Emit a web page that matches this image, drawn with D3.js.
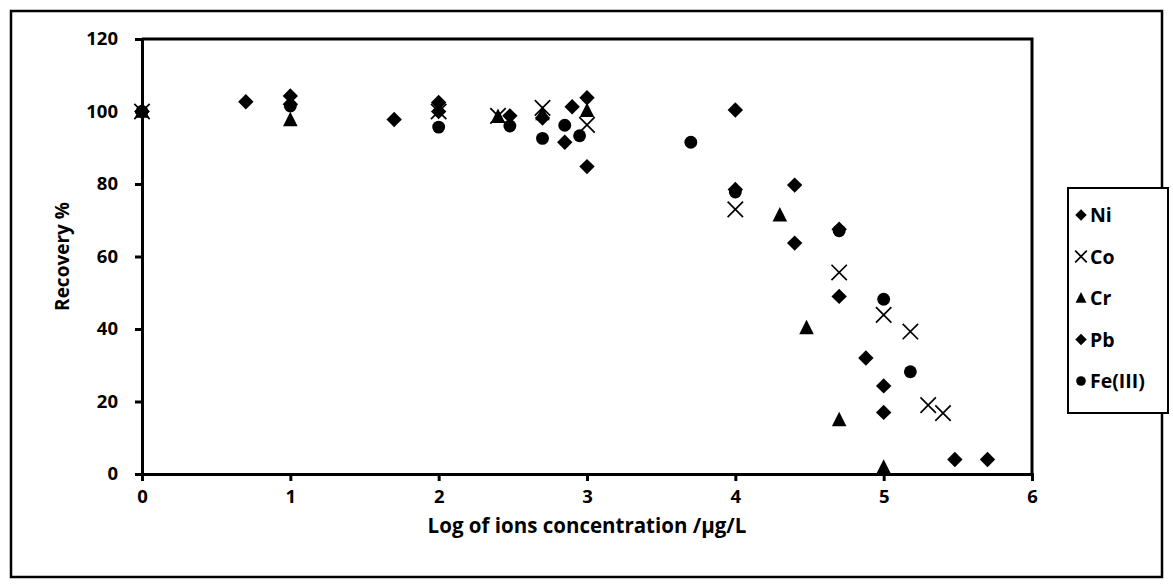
<!DOCTYPE html>
<html><head><meta charset="utf-8">
<script src="https://cdn.jsdelivr.net/npm/d3@7/dist/d3.min.js"></script>
<style>body{margin:0;background:#fff}svg{display:block}text{font-family:"Open Sans",sans-serif;font-weight:bold;fill:#000}</style>
</head><body><svg id="c" width="1173" height="588"></svg>
<script>
const xTicks = [0,1,2,3,4,5,6];
const yTicks = [0,20,40,60,80,100,120];
const seriesNames = ["Ni","Co","Cr","Pb","Fe(III)"];
const seriesShapes = ["diamond","cross","triangle","diamond","circle"];
const niData = [[0,100],[1,104.3],[2,102.5],[2.7,98.2],[3,103.8],[4,100.4],[4.4,79.7],[4.7,49],[5,24.3],[5.48,4]];
const coData = [[0,100],[2,100],[2.4,98.8],[2.7,101],[3,96.3],[4,73],[4.7,55.6],[5,43.9],[5.18,39.3],[5.3,19],[5.4,16.8]];
const crData = [[0,100],[1,97.7],[2.4,98.6],[2.7,99.3],[3,100.2],[4.3,71.4],[4.48,40.3],[4.7,14.9],[5,1.8]];
const pbData = [[0,100],[0.7,102.7],[1,102],[1.7,97.8],[2,100],[2.48,98.8],[2.85,91.5],[2.9,101.3],[3,84.8],[4,78.5],[4.4,63.7],[4.7,67.5],[4.88,32],[5,17],[5.7,4]];
const feData = [[0,100],[1,101.5],[2,95.7],[2.48,96],[2.7,92.6],[2.85,96.2],[2.95,93.3],[3.7,91.5],[4,77.8],[4.7,67.1],[5,48.2],[5.18,28.2]];
const allData = [niData,coData,crData,pbData,feData];

const svg = d3.select("#c");
const L=142, R=1032, T=39, B=474;
const x = d3.scaleLinear().domain([0,6]).range([L,R]);
const y = d3.scaleLinear().domain([0,120]).range([B,T]);

svg.append("rect").attr("x",11).attr("y",11).attr("width",1151).attr("height",566)
  .attr("fill","none").attr("stroke","#000").attr("stroke-width",2.5);

svg.append("path").attr("d",`M${L},${T}H${R}V${B}`).attr("fill","none").attr("stroke","#000").attr("stroke-width",3);

const xa = svg.append("g").attr("transform",`translate(0,${B})`)
  .call(d3.axisBottom(x).tickValues(xTicks).tickFormat(d3.format("d")).tickSize(7).tickPadding(9));
const ya = svg.append("g").attr("transform",`translate(${L},0)`)
  .call(d3.axisLeft(y).tickValues(yTicks).tickFormat(d3.format("d")).tickSize(7).tickPadding(17));
[xa,ya].forEach(a=>{
  a.select(".domain").attr("stroke","#000").attr("stroke-width",3);
  a.selectAll(".tick line").attr("stroke","#000").attr("stroke-width",3);
  a.selectAll(".tick text").style("font-size","18.5px").style("font-family","'Open Sans',sans-serif").style("font-weight","bold").attr("fill","#000");
});

function shape(g, type, cx, cy, s){
  if(type==="diamond"){
    g.append("path").attr("d",`M${cx},${cy-s*0.55}L${cx+s*0.55},${cy}L${cx},${cy+s*0.55}L${cx-s*0.55},${cy}Z`).attr("fill","#000");
  } else if(type==="circle"){
    g.append("circle").attr("cx",cx).attr("cy",cy).attr("r",s*0.46).attr("fill","#000");
  } else if(type==="triangle"){
    g.append("path").attr("d",`M${cx},${cy-s*0.58}L${cx+s*0.52},${cy+s*0.45}L${cx-s*0.52},${cy+s*0.45}Z`).attr("fill","#000");
  } else {
    const h=s*0.55;
    g.append("path").attr("d",`M${cx-h},${cy-h}L${cx+h},${cy+h}M${cx+h},${cy-h}L${cx-h},${cy+h}`).attr("stroke","#000").attr("stroke-width",1.7).attr("fill","none");
  }
}

const pts = svg.append("g");
allData.forEach((data,i)=>{
  data.forEach(d=>shape(pts, seriesShapes[i], x(d[0]), y(d[1]), 14));
});

svg.append("text").attr("x",(L+R)/2).attr("y",533).attr("text-anchor","middle").style("font-size","20.5px").text("Log of ions concentration /µg/L");
svg.append("text").attr("transform",`translate(69,${(T+B)/2}) rotate(-90)`).attr("text-anchor","middle").style("font-size","19px").text("Recovery %");

const lg = svg.append("g");
lg.append("rect").attr("x",1068).attr("y",188).attr("width",100).attr("height",225).attr("fill","#fff").attr("stroke","#000").attr("stroke-width",2);
seriesNames.forEach((n,i)=>{
  const cy = 215 + i*41.5;
  shape(lg, seriesShapes[i], 1081, cy, 10.5);
  lg.append("text").attr("x",1090).attr("y",cy+7).style("font-size","19.5px").text(n);
});
</script></body></html>
